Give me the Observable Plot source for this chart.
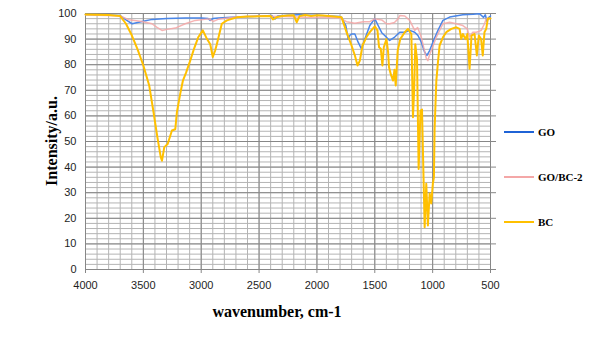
<!DOCTYPE html>
<html>
<head>
<meta charset="utf-8">
<script src="https://cdn.jsdelivr.net/npm/d3@7"></script>
<script src="https://cdn.jsdelivr.net/npm/@observablehq/plot@0.6"></script>
<style>
  html, body { margin: 0; padding: 0; background: #fff; }
  #wrap { position: relative; width: 605px; height: 340px; font-family: "Liberation Sans", Arial, sans-serif; }
  .title { position: absolute; font-family: "Liberation Serif", "Times New Roman", serif; font-weight: bold; font-size: 16px; color: #000; white-space: nowrap; }
  .leg { position: absolute; font-family: "Liberation Serif", "Times New Roman", serif; font-weight: bold; font-size: 11px; color: #000; white-space: nowrap; line-height: 12px; }
  .legline { position: absolute; width: 30px; height: 0; }
</style>
</head>
<body>
<div id="wrap"></div>
<script>
// ---- data ----
const seriesNames = ["GO", "GO/BC-2", "BC"];
const seriesColors = ["#4a86e8", "#f4a7a7", "#ffc000"];

const goWave = [4000,3900,3800,3700,3650,3597,3569,3500,3425,3300,3138,3000,2940,2922,2900,2851,2700,2563,2391,2362,2340,2250,2200,2150,2100,2000,1900,1800,1787,1750,1730,1715,1701,1672,1644,1615,1586,1543,1500,1471,1440,1414,1385,1371,1328,1284,1241,1198,1155,1127,1098,1069,1049,1026,998,954,911,853,739,650,595,560,545,530,515,500];
const goVal  = [99.6,99.5,99.4,99.2,97.5,96,96.3,97,97.7,98,98.2,98.2,98,97.3,98,98.2,98.6,98.8,99.2,97.9,99,99.3,99.4,99.6,99.3,99.3,99,98.8,98.5,95.3,90,91.5,92,92,88.8,86.2,90,95.3,98,95.3,92.5,91.4,90,89.5,90.8,92.7,92.7,93.4,92.7,91.4,88.8,84.9,83.6,85.5,88.8,93.4,97.3,98.6,99.5,99.7,99.9,98.5,99.5,97,98.5,99];

const gobcWave = [4000,3900,3800,3700,3627,3512,3425,3382,3339,3296,3224,3138,3052,2937,2894,2850,2707,2506,2300,2100,1900,1800,1744,1672,1600,1543,1500,1440,1399,1371,1330,1299,1284,1241,1198,1155,1130,1098,1055,1041,1026,1012,968,911,853,796,739,700,681,653,624,600,581,552,537,500];
const gobcVal  = [99.5,99.3,99.2,99,97.6,96.9,96,94.6,93.4,93.8,94.3,96,97.3,97.9,96.9,97.8,98.6,99,98.8,98.5,98.4,98.2,96.8,96.2,96.8,96.8,97.9,97.5,96,96,96.5,97.9,99.2,99,97.3,93.4,94.5,90.8,82.5,81.6,84,85.5,90.8,96,96.6,96,95.3,94,90.8,92.7,92.7,93,93.4,96,98,98];

const bcWave = [4000,3900,3800,3750,3700,3650,3600,3550,3500,3450,3414,3380,3350,3339,3319,3290,3253,3224,3210,3181,3158,3130,3095,3060,3026,2986,2951,2922,2900,2880,2865,2822,2778,2692,2600,2500,2400,2380,2350,2300,2250,2200,2175,2150,2100,2050,2000,1950,1900,1850,1787,1744,1701,1672,1649,1629,1606,1572,1543,1500,1477,1463,1448,1434,1422,1399,1385,1377,1360,1342,1330,1319,1302,1280,1241,1213,1184,1170,1160,1150,1135,1121,1105,1092,1069,1055,1041,1026,1012,998,989,983,968,954,940,911,882,839,796,767,753,739,716,700,681,664,638,618,601,581,567,552,537,523,500];
const bcVal  = [99.6,99.5,99.4,99.2,99,96,91.5,86,79.7,72,62,52,44,42.5,47.8,49,54.3,54.8,61.5,68.7,73.8,77,81.6,86.5,90.7,93.4,90.1,88,83,85.5,88,96,97.3,98.5,98.8,98.9,99,97.7,98.5,99,99.2,99.3,96.6,99,99.4,99,99.3,99.2,99,98.8,98.5,92.7,87.5,83.6,79.7,81.6,87.5,90.8,92.7,95,93.4,86.8,86.2,79.7,86.8,90,85,79,76,73.8,78,71.9,85.5,90,92.7,94,92,59.5,70,88,82,39.3,62,62.5,16.5,33.5,17.2,29.7,25.8,33.6,36,55,73.8,81,87.5,90.7,92.7,94,94.6,94,90.1,92,90,92,78.4,91.4,92,83.6,91.4,90,83.6,92.7,94,98,98];

const xTicks = [4000,3500,3000,2500,2000,1500,1000,500];
const yTicks = [0,10,20,30,40,50,60,70,80,90,100];
const xMinor = d3.range(500, 4001, 100);
const yMinor = d3.range(0, 101, 2);

// ---- build tables ----
const toRows = (ws, vs) => ws.map((w, i) => ({w, v: vs[i]}));
const series = [
  toRows(goWave, goVal),
  toRows(gobcWave, gobcVal),
  toRows(bcWave, bcVal)
];
const widths = [1.5, 1.5, 2];

const majorGrid = "#878787";
const minorGrid = "#b4b4b4";

const chart = Plot.plot({
  width: 605,
  height: 340,
  marginLeft: 85,
  marginRight: 115,
  marginTop: 13,
  marginBottom: 71,
  style: {fontFamily: "'Liberation Sans', Arial, sans-serif", fontSize: "11px", color: "#1e1e1e", background: "#fff"},
  x: {domain: [4000, 500]},
  y: {domain: [0, 100]},
  marks: [
    Plot.ruleX(xMinor, {stroke: minorGrid, strokeWidth: 1}),
    Plot.ruleY(yMinor, {stroke: minorGrid, strokeWidth: 1}),
    Plot.ruleX(xTicks, {stroke: majorGrid, strokeWidth: 1}),
    Plot.ruleY(yTicks, {stroke: majorGrid, strokeWidth: 1}),
    Plot.axisY({ticks: yTicks, tickSize: 0, tickPadding: 9, tickFormat: d => String(d), label: null}),
    Plot.axisY({anchor: "right", ticks: yTicks, tickSize: 5, tickFormat: () => "", label: null, stroke: majorGrid}),
    Plot.axisX({ticks: xTicks, tickSize: 4, tickPadding: 8, tickFormat: d => String(d), label: null, stroke: majorGrid, fill: "#1e1e1e"}),
    Plot.ruleX([500], {stroke: majorGrid}),
    Plot.ruleY([0], {stroke: majorGrid}),
    ...series.map((rows, i) => Plot.line(rows, {x: "w", y: "v", stroke: seriesColors[i], strokeWidth: widths[i], strokeOpacity: i === 1 ? 0.85 : 1}))
  ]
});

const wrap = document.getElementById("wrap");
wrap.appendChild(chart);

// axis titles
const yt = document.createElement("div");
yt.className = "title";
yt.textContent = "Intensity/a.u.";
yt.style.left = "52px"; yt.style.top = "141px";
yt.style.transform = "translate(-50%, -50%) rotate(-90deg)";
wrap.appendChild(yt);

const xt = document.createElement("div");
xt.className = "title";
xt.textContent = "wavenumber, cm-1";
xt.style.left = "277px"; xt.style.top = "312px";
xt.style.transform = "translate(-50%, -50%)";
wrap.appendChild(xt);

// legend
const legY = [132, 177, 222];
seriesNames.forEach((name, i) => {
  const ln = document.createElement("div");
  ln.className = "legline";
  ln.style.left = "504px";
  ln.style.top = (legY[i] - 1) + "px";
  ln.style.borderTop = (i === 2 ? 2 : 2) + "px solid " + (i === 0 ? "#1f63d6" : seriesColors[i]);
  wrap.appendChild(ln);
  const lb = document.createElement("div");
  lb.className = "leg";
  lb.textContent = name;
  lb.style.left = "538px";
  lb.style.top = (legY[i] - 6) + "px";
  wrap.appendChild(lb);
});
</script>
</body>
</html>
